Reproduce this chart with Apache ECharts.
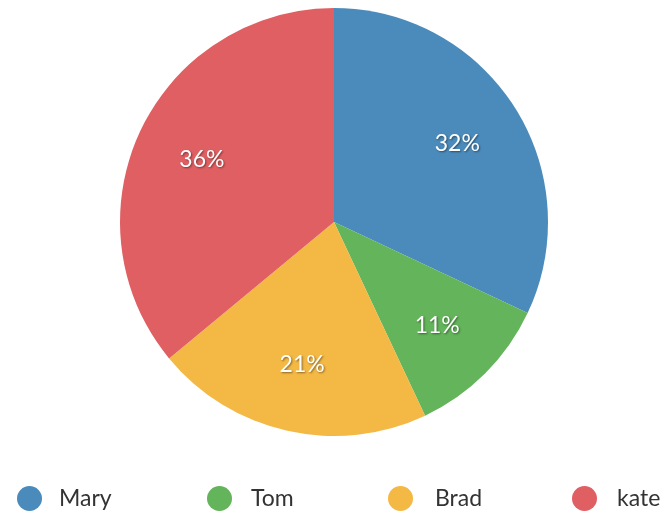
<!DOCTYPE html>
<html><head><meta charset="utf-8">
<script src="https://cdn.jsdelivr.net/npm/echarts@6/dist/echarts.min.js"></script>
<style>html,body{margin:0;padding:0;background:#fff}#c{width:669px;height:514px}</style>
</head><body><div id="c"></div>
<script>
const names = ['Mary', 'Tom', 'Brad', 'kate'];
const values = [32, 11, 21, 36];
const colors = ['#4b8bbb', '#63b45a', '#f4b844', '#e05f62'];

const data = names.map((n, i) => ({ name: n, value: values[i], itemStyle: { color: colors[i] } }));
const legendLefts = [12, 202, 383, 567];
const textGaps = [12, 14, 17, 15];
const font = 'Lato, "Open Sans", sans-serif';

const chart = echarts.init(document.getElementById('c'));
chart.setOption({
  animation: false,
  backgroundColor: '#fff',
  legend: names.map((n, i) => ({
    data: [{ name: n, icon: 'circle' }],
    left: legendLefts[i], top: 481,
    itemWidth: 25, itemHeight: 25,
    textStyle: { fontFamily: font, fontSize: 23, color: '#333', padding: [0, 0, 0, textGaps[i]] }
  })),
  series: [{
    type: 'pie',
    center: [334, 222], radius: [0, 214],
    startAngle: 90, clockwise: true,
    label: { show: false }, labelLine: { show: false },
    emphasis: { disabled: true },
    data: data
  }, {
    type: 'pie',
    center: [334, 222], radius: [72, 214],
    startAngle: 90, clockwise: true,
    silent: true,
    itemStyle: { color: 'transparent', borderWidth: 0 },
    label: {
      show: true, position: 'inside', formatter: '{c}%',
      fontFamily: font, fontSize: 23, color: '#fff',
      textShadowColor: 'rgba(0,0,0,0.45)', textShadowBlur: 2, textShadowOffsetX: 1, textShadowOffsetY: 1
    },
    labelLine: { show: false },
    emphasis: { disabled: true },
    data: names.map((n, i) => ({ name: n + ' ', value: values[i], itemStyle: { color: 'transparent' } }))
  }]
});
</script></body></html>
